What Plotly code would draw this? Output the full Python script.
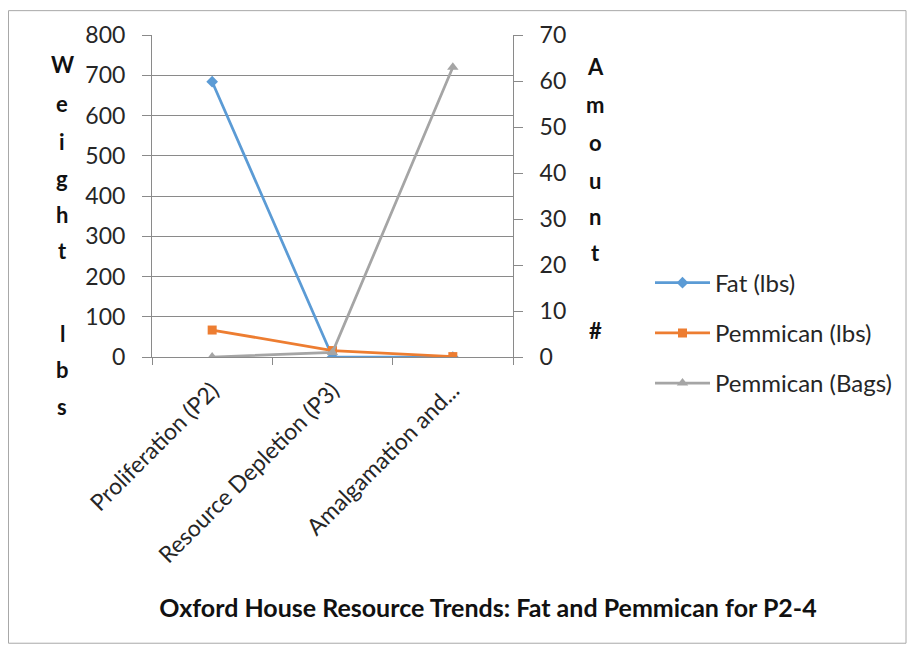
import plotly.graph_objects as go

# ---- data ----
categories = ["Proliferation (P2)", "Resource Depletion (P3)", "Amalgamation and..."]
fat_lbs = [684, 0, 0]
pemmican_lbs = [67, 16, 1]
pemmican_bags = [0, 1, 63]
left_ticks = [0, 100, 200, 300, 400, 500, 600, 700, 800]
right_ticks = [0, 10, 20, 30, 40, 50, 60, 70]
left_title_letters = ["W", "e", "i", "g", "h", "t", "l", "b", "s"]
right_title_letters = ["A", "m", "o", "u", "n", "t", "#"]

# ---- layout geometry (pixels, page coords; page body has an 8px margin) ----
OFF = 8
W, H = 917 - OFF, 653 - OFF
L, R, T, B = 152 - OFF, 513 - OFF, 33 - OFF, 357 - OFF
FONT = "Lato, Open Sans, sans-serif"
TXT = "#262626"
GRID = "#8a8a8a"


def px(x):
    return (x - OFF - L) / (R - L)


def py(y):
    return (B - (y - OFF)) / (B - T)


fig = go.Figure()
fig.add_trace(go.Scatter(
    x=categories, y=fat_lbs, name="Fat (lbs)", mode="lines+markers",
    line=dict(color="#5B9BD5", width=2.75),
    marker=dict(symbol="diamond", size=9, color="#5B9BD5"),
    legendgroup="g1"))
fig.add_trace(go.Scatter(
    x=categories, y=pemmican_lbs, name="Pemmican (lbs)", mode="lines+markers",
    line=dict(color="#ED7D31", width=2.75),
    marker=dict(symbol="square", size=9, color="#ED7D31"),
    legendgroup="g2"))
fig.add_trace(go.Scatter(
    x=categories, y=pemmican_bags, name="Pemmican (Bags)", mode="lines+markers",
    yaxis="y2",
    line=dict(color="#A5A5A5", width=2.75),
    marker=dict(symbol="triangle-up", size=10, color="#A5A5A5"),
    legendgroup="g3"))

annotations = []
left_y = [63, 102, 140, 177, 214, 250, 333, 370, 407]
for ch, yy in zip(left_title_letters, left_y):
    annotations.append(dict(text=ch, x=px(62), y=py(yy), xref="paper", yref="paper",
                            showarrow=False, xanchor="center", yanchor="middle",
                            font=dict(family=FONT, size=22, color="#111111", weight="bold")))
right_y = [65, 103, 141, 179, 216, 252, 330]
for ch, yy in zip(right_title_letters, right_y):
    annotations.append(dict(text=ch, x=px(595), y=py(yy), xref="paper", yref="paper",
                            showarrow=False, xanchor="center", yanchor="middle",
                            font=dict(family=FONT, size=22, color="#111111", weight="bold")))

fig.update_layout(
    width=W, height=H,
    margin=dict(l=L, r=W - R, t=T, b=H - B),
    paper_bgcolor="white", plot_bgcolor="white",
    font=dict(family=FONT, color=TXT),
    title=dict(text="<b>Oxford House Resource Trends: Fat and Pemmican for P2-4</b>",
               x=(488 - OFF) / W, y=1 - (608 - OFF) / H, xanchor="center", yanchor="middle",
               xref="container", yref="container",
               font=dict(family=FONT, size=25, color="#111111")),
    xaxis=dict(type="category", range=[-0.5, 2.5], showgrid=False,
               showline=True, linecolor=GRID, linewidth=1,
               ticks="outside", tickson="boundaries", ticklen=7, tickcolor=GRID,
               ticklabelstandoff=10,
               tickangle=-45, tickfont=dict(family=FONT, size=23, color=TXT)),
    yaxis=dict(range=[0, 800], tickvals=left_ticks, showgrid=True, gridcolor=GRID,
               gridwidth=1, zeroline=False, showline=True, linecolor=GRID,
               ticks="outside", ticklen=9, tickcolor=GRID,
               ticklabelstandoff=12,
               tickfont=dict(family=FONT, size=23, color=TXT)),
    yaxis2=dict(range=[0, 70], tickvals=right_ticks, overlaying="y", side="right",
                showgrid=False, zeroline=False, showline=True, linecolor=GRID,
                ticks="outside", ticklen=9, tickcolor=GRID,
                ticklabelstandoff=12,
                tickfont=dict(family=FONT, size=23, color=TXT)),
    legend=dict(x=px(650), y=py(260), xanchor="left", yanchor="top",
                font=dict(family=FONT, size=24, color=TXT),
                tracegroupgap=16, itemwidth=55, bgcolor="rgba(0,0,0,0)"),
    annotations=annotations,
    shapes=[dict(type="rect", xref="paper", yref="paper",
                 x0=px(8.5), x1=px(906), y0=py(645), y1=py(8.5),
                 line=dict(color="#a8a8a8", width=1))],
)

fig.write_html("out.html")
